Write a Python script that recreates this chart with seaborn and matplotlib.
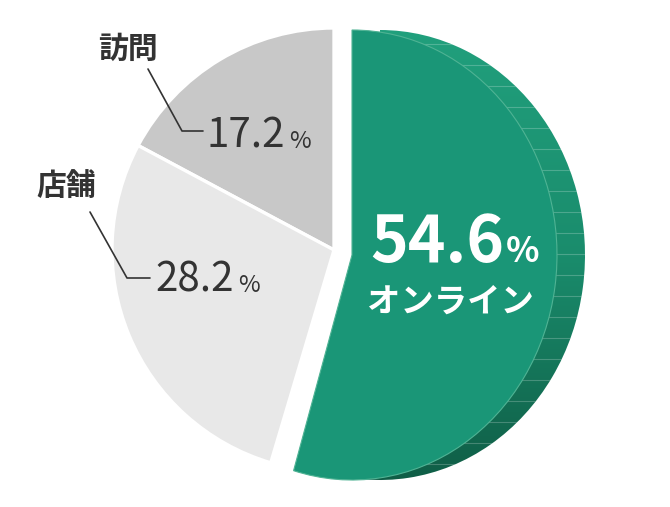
import numpy as np
import matplotlib
matplotlib.use("Agg")
import matplotlib.pyplot as plt
import matplotlib.transforms as mtransforms
from matplotlib.colors import LinearSegmentedColormap
import seaborn as sns

# ---- data ----
categories = ["訪問", "店舗", "オンライン"]
shares = [17.2, 28.2, 54.6]
colors = ["#c8c8c8", "#e8e8e8", "#1a9677"]

sns.set_theme(style="white")
plt.rcParams["font.family"] = ["Noto Sans CJK JP", "DejaVu Sans"]

W, H = 670, 507
fig = plt.figure(figsize=(W / 100, H / 100), dpi=100)
ax = fig.add_axes([0, 0, 1, 1])


def py(y):
    return H - y


grey_center = (334, py(250))
R = 222
wedges, _ = ax.pie(shares, colors=colors, startangle=90, counterclock=True,
                   center=grey_center, radius=R,
                   wedgeprops=dict(linewidth=2.4, edgecolor="white"))
ax.set_xlim(0, W)
ax.set_ylim(0, H)
ax.set_aspect("auto")
ax.axis("off")

# ---- green (exploded, coin-like) slice ----
green = wedges[2]
gc = (352, py(255))
green.set_center(gc)
green.set_radius(225)
sx = 205 / 225
face_tr = (mtransforms.Affine2D().translate(-gc[0], -gc[1]).scale(sx, 1)
           .translate(gc[0], gc[1]))
green.set_transform(face_tr + ax.transData)
green.set_edgecolor("#4fb394")
green.set_linewidth(0.8)
green.set_zorder(3)

# side (extrusion) – shifted copy used as clip path for a gradient
side = matplotlib.patches.Wedge(gc, 225, green.theta1, green.theta2,
                                facecolor="none", edgecolor="none")
side_tr = (mtransforms.Affine2D().translate(-gc[0], -gc[1]).scale(sx, 1)
           .translate(gc[0] + 28, gc[1]))
side.set_transform(side_tr + ax.transData)
ax.add_patch(side)

cmap = LinearSegmentedColormap.from_list("side", ["#21a07d", "#1a8c6c", "#0f5c45"])
grad = np.linspace(0, 1, 256).reshape(-1, 1)
im = ax.imshow(grad, cmap=cmap, extent=(340, 600, py(490), py(25)),
               aspect="auto", zorder=1, origin="upper")
im.set_clip_path(side)

for yy in np.arange(44, 480, 21):
    ln, = ax.plot([340, 600], [py(yy), py(yy)], color="white", alpha=0.22,
                  lw=0.8, zorder=1.5)
    ln.set_clip_path(side)

# ---- labels ----
dark = "#333333"
ax.text(504, py(262), "54.6", color="white", fontsize=46, fontweight="bold",
        ha="right", va="baseline", zorder=5)
ax.text(506, py(262), "%", color="white", fontsize=25, fontweight="bold",
        ha="left", va="baseline", zorder=5)
ax.text(450, py(302), categories[2], color="white", fontsize=24,
        fontweight="bold", ha="center", va="center", zorder=5)

# 訪問
ax.text(128, py(49), categories[0], color=dark, fontsize=21.5, fontweight="bold",
        ha="center", va="center", zorder=5)
ax.plot([148, 182, 203], [py(69), py(131), py(131)], color=dark, lw=1.2, zorder=5)
ax.text(206, py(148), f"{shares[0]}", color=dark, fontsize=29, ha="left",
        va="baseline", zorder=5)
ax.text(289, py(148), "%", color=dark, fontsize=17, ha="left", va="baseline",
        zorder=5)

# 店舗
ax.text(66, py(186), categories[1], color=dark, fontsize=21.5, fontweight="bold",
        ha="center", va="center", zorder=5)
ax.plot([90, 127, 150], [py(212), py(278), py(278)], color=dark, lw=1.2, zorder=5)
ax.text(155, py(292), f"{shares[1]}", color=dark, fontsize=29, ha="left",
        va="baseline", zorder=5)
ax.text(238, py(292), "%", color=dark, fontsize=17, ha="left", va="baseline",
        zorder=5)

fig.savefig("out.png", dpi=100)
